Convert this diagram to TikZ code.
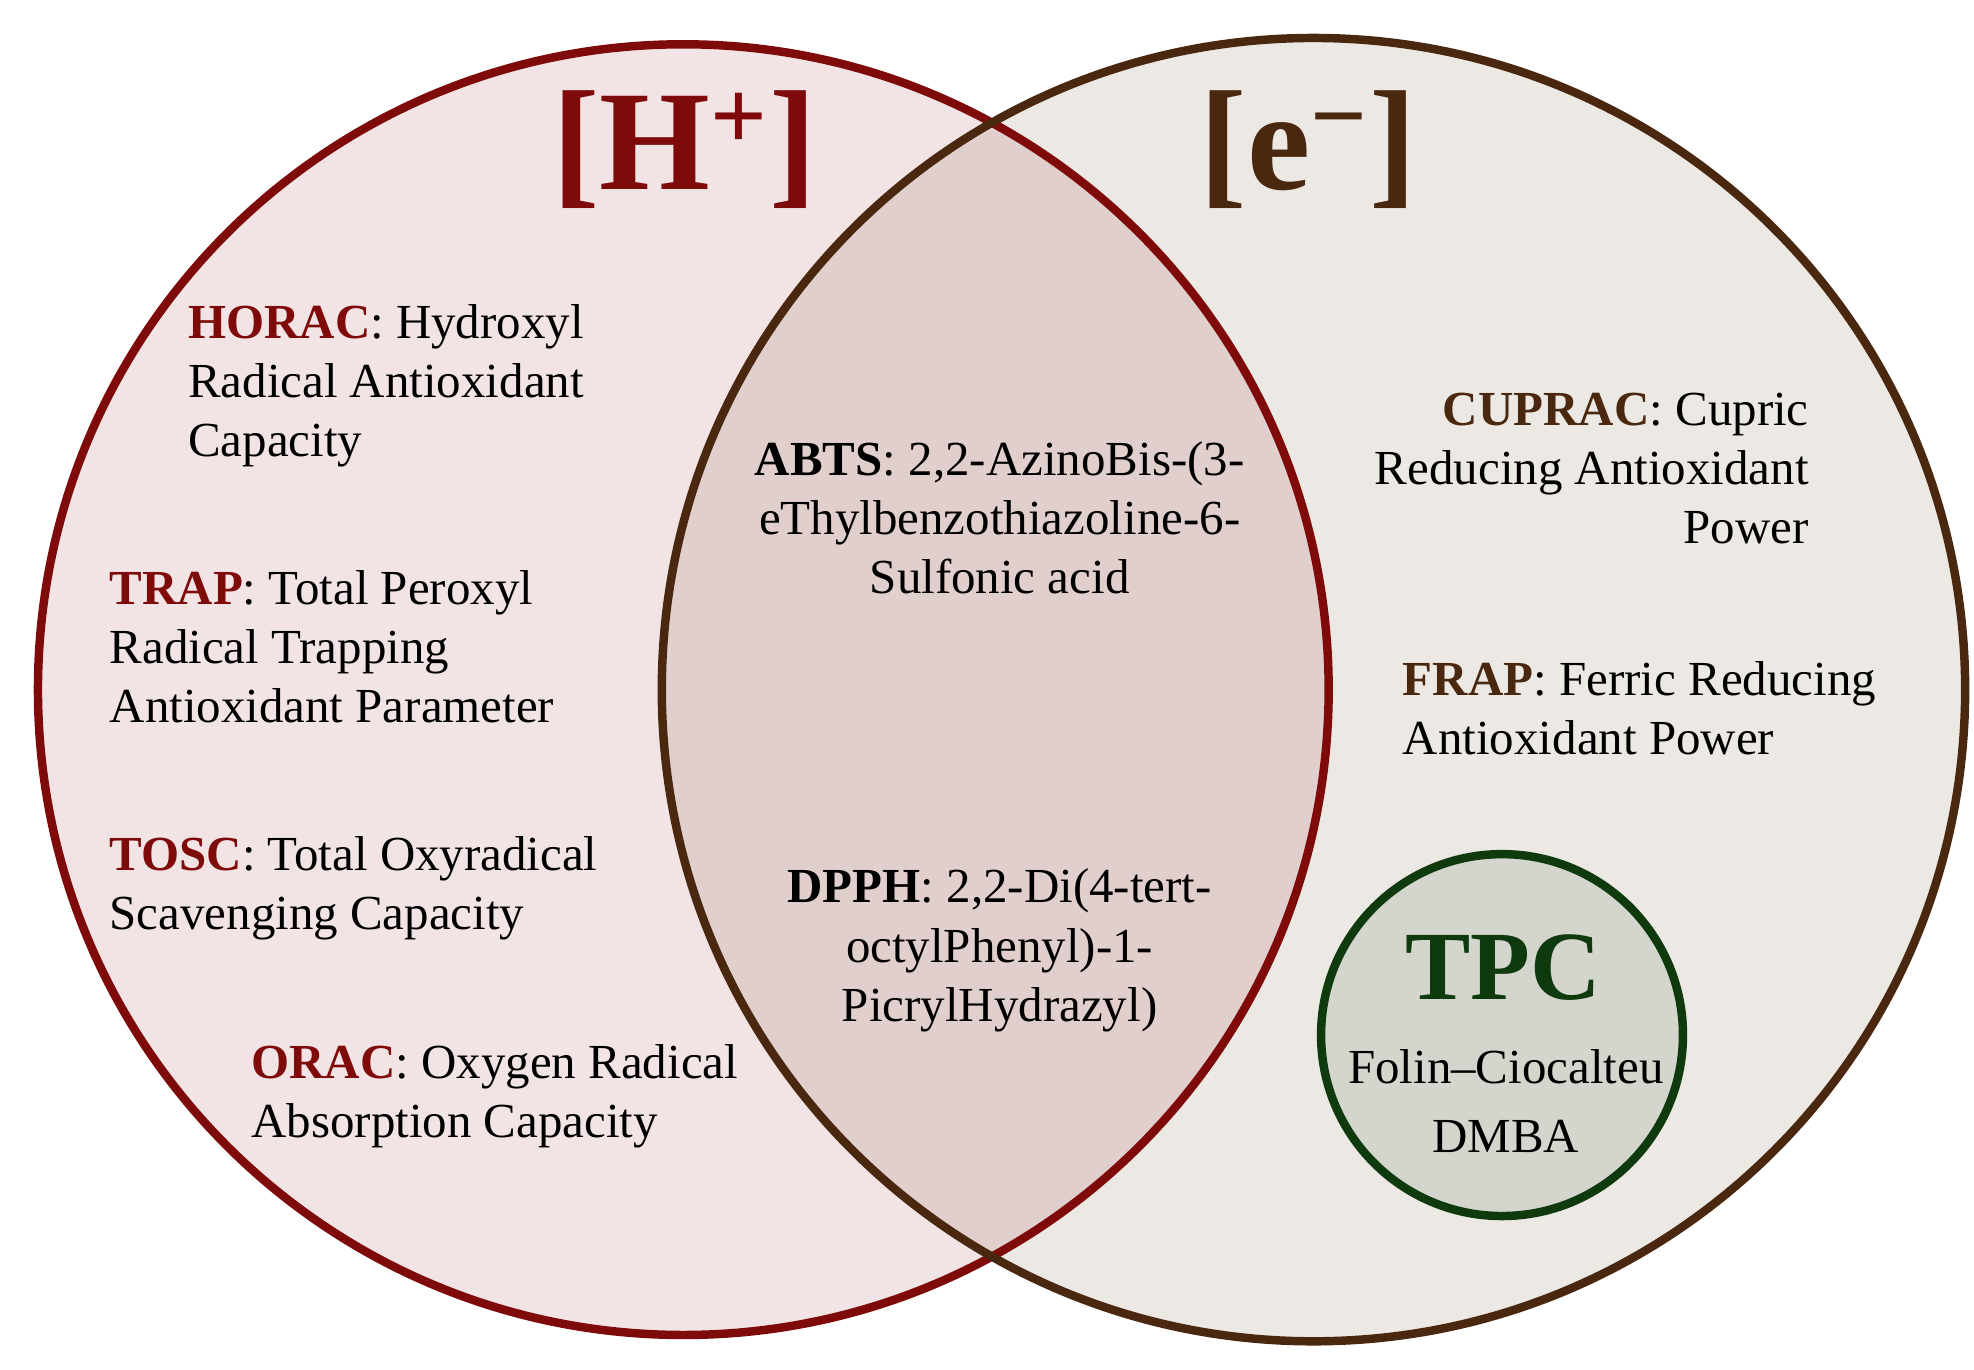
\documentclass[tikz,border=0pt]{standalone}
\usepackage{fontspec}
\setmainfont{Liberation Serif}
\definecolor{hred}{HTML}{7F0A0A}
\definecolor{ebrown}{HTML}{4A2810}
\definecolor{tgreen}{HTML}{0E3A0E}
\definecolor{hfill}{HTML}{F2E4E4}
\definecolor{efill}{HTML}{ECE8E3}
\definecolor{bothfill}{HTML}{E0CFCD}
\definecolor{tfill}{HTML}{D4D5CC}
\tikzset{
  txt/.style={font=\fontsize{11}{13.3}\selectfont, inner sep=0pt},
  head/.style={font=\fontsize{32}{32}\selectfont\bfseries, inner sep=0pt}
}
\begin{document}
\begin{tikzpicture}[x=0.01cm, y=-0.01cm]

\useasboundingbox (0,0) rectangle (1560,1082);

% circles
\fill[hfill] (540,545) circle (510);
\fill[efill] (1038,545) circle (515);
\begin{scope}
  \clip (540,545) circle (510);
  \fill[bothfill] (1038,545) circle (515);
\end{scope}
\draw[hred, line width=1.9pt] (540,545) circle (510);
\draw[ebrown, line width=1.9pt] (1038,545) circle (515);
\draw[tgreen, fill=tfill, line width=1.9pt] (1187,818) circle (143);

% headings
\node[head, text=hred] (hplus) at (541,118) {[H\textsuperscript{+}]};
\node[head, text=ebrown] (eminus) at (1034,118) {[e\textsuperscript{−}]};

% left: H+ assays
\node[txt, anchor=north west, align=left] (horac) at (148,240)
  {\textbf{\textcolor{hred}{HORAC}}: Hydroxyl\\Radical Antioxidant\\Capacity};
\node[txt, anchor=north west, align=left] (trap) at (86,450)
  {\textbf{\textcolor{hred}{TRAP}}: Total Peroxyl\\Radical Trapping\\Antioxidant Parameter};
\node[txt, anchor=north west, align=left] (tosc) at (86,660)
  {\textbf{\textcolor{hred}{TOSC}}: Total Oxyradical\\Scavenging Capacity};
\node[txt, anchor=north west, align=left] (orac) at (198,825)
  {\textbf{\textcolor{hred}{ORAC}}: Oxygen Radical\\Absorption Capacity};

% middle: both
\node[txt, anchor=north, align=center] (abts) at (790,348)
  {\textbf{ABTS}: 2,2-AzinoBis-(3-\\eThylbenzothiazoline-6-\\Sulfonic acid};
\node[txt, anchor=north, align=center] (dpph) at (790,686)
  {\textbf{DPPH}: 2,2-Di(4-tert-\\octylPhenyl)-1-\\PicrylHydrazyl)};

% right: e- assays
\node[txt, anchor=north east, align=right] (cuprac) at (1430,310)
  {\textbf{\textcolor{ebrown}{CUPRAC}}: Cupric\\Reducing Antioxidant\\Power};
\node[txt, anchor=north west, align=left] (frap) at (1108,522)
  {\textbf{\textcolor{ebrown}{FRAP}}: Ferric Reducing\\Antioxidant Power};

% TPC
\node[font=\fontsize{22}{22}\selectfont\bfseries, text=tgreen, inner sep=0pt] (tpc) at (1188,765) {TPC};
\node[txt] (folin) at (1190,843) {Folin–Ciocalteu};
\node[txt] (dmba) at (1190,898) {DMBA};

\end{tikzpicture}
\end{document}
